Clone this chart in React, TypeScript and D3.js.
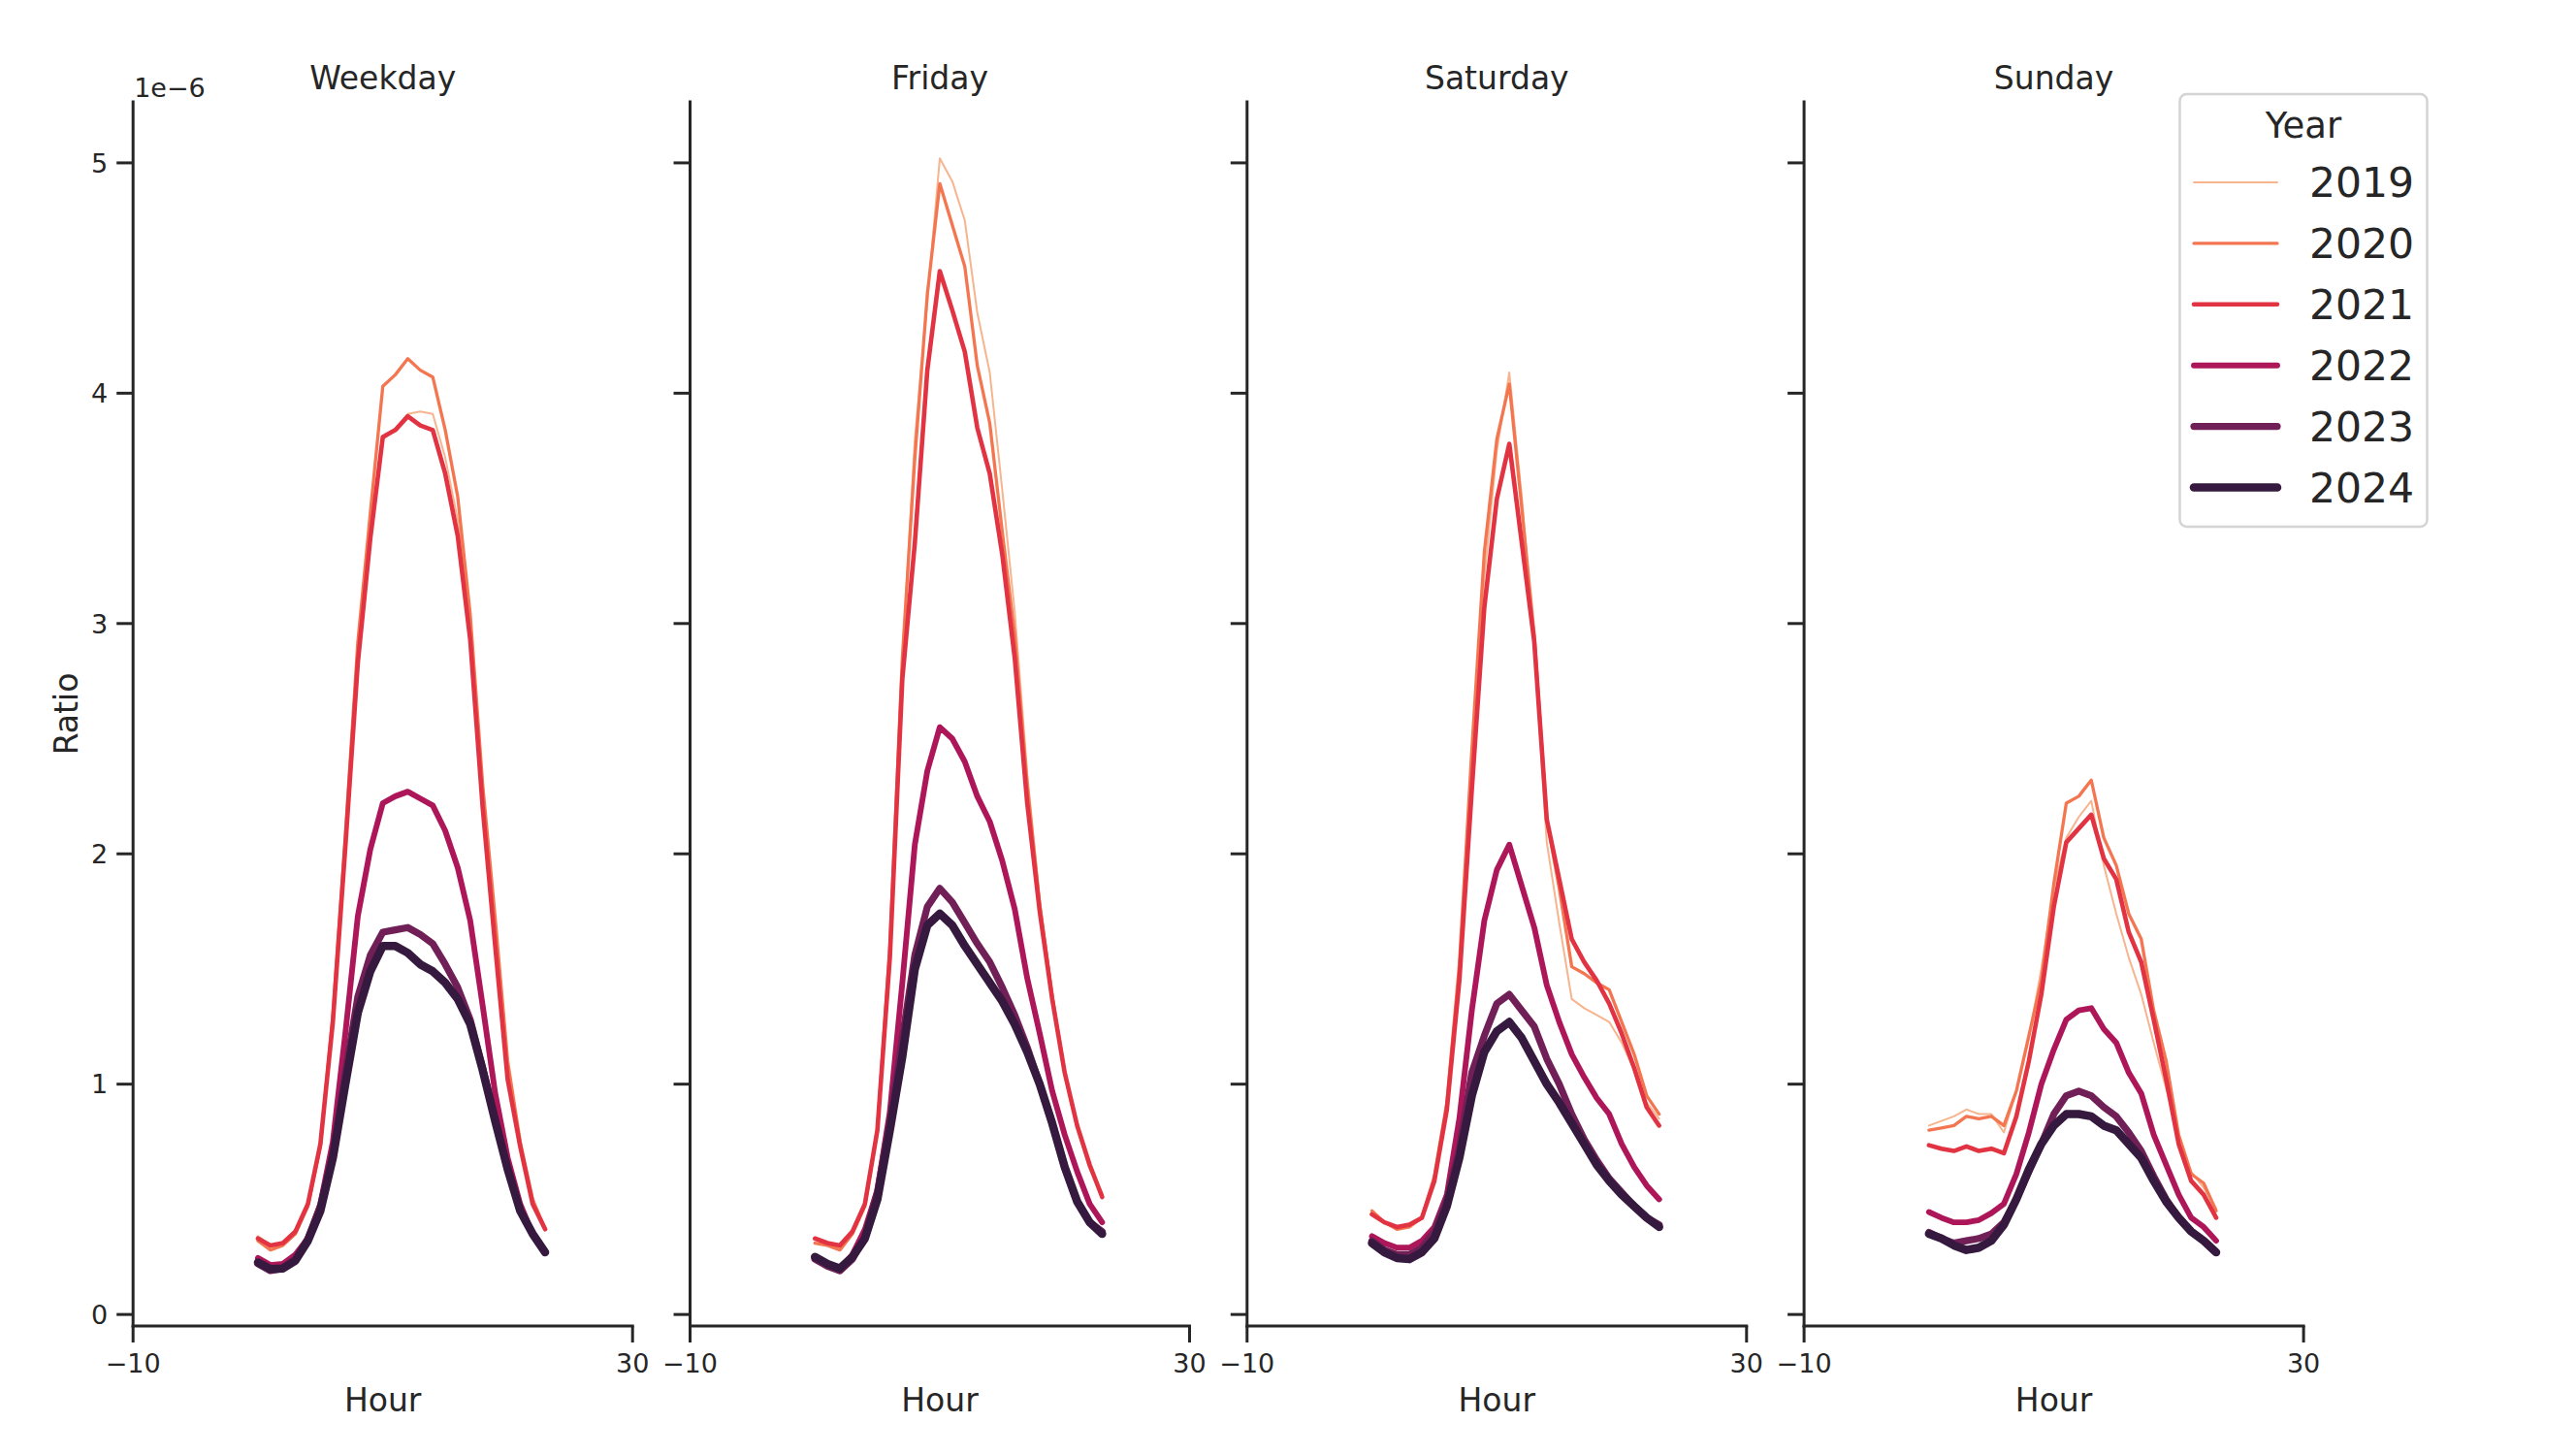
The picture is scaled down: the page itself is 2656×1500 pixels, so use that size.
import React from "react";
import * as d3 from "d3";

const dayTypes = ["Weekday", "Friday", "Saturday", "Sunday"];
const years = ["2019", "2020", "2021", "2022", "2023", "2024"];
const hours = [0, 1, 2, 3, 4, 5, 6, 7, 8, 9, 10, 11, 12, 13, 14, 15, 16, 17, 18, 19, 20, 21, 22, 23];
const yTicks = [0, 1, 2, 3, 4, 5];
const xTicks = [-10, 30];

// values in units of 1e-6, one row per year (2019..2024)
const weekday = [
  [0.34, 0.30, 0.31, 0.37, 0.48, 0.74, 1.30, 2.05, 2.88, 3.42, 3.80, 3.84, 3.91, 3.92, 3.91, 3.72, 3.45, 3.00, 2.30, 1.70, 1.10, 0.75, 0.50, 0.38],
  [0.32, 0.28, 0.30, 0.35, 0.47, 0.73, 1.30, 2.08, 2.92, 3.48, 4.03, 4.08, 4.15, 4.10, 4.07, 3.84, 3.55, 3.04, 2.30, 1.72, 1.10, 0.75, 0.50, 0.37],
  [0.33, 0.30, 0.31, 0.36, 0.48, 0.74, 1.27, 2.03, 2.83, 3.37, 3.81, 3.84, 3.90, 3.86, 3.84, 3.65, 3.38, 2.93, 2.20, 1.60, 1.02, 0.73, 0.48, 0.37],
  [0.245, 0.215, 0.22, 0.26, 0.33, 0.48, 0.75, 1.22, 1.73, 2.02, 2.22, 2.25, 2.27, 2.24, 2.21, 2.10, 1.94, 1.71, 1.34, 0.96, 0.68, 0.48, 0.35, 0.27],
  [0.22, 0.19, 0.20, 0.24, 0.33, 0.47, 0.70, 1.05, 1.38, 1.56, 1.66, 1.67, 1.68, 1.65, 1.61, 1.52, 1.42, 1.28, 1.07, 0.85, 0.63, 0.45, 0.35, 0.27],
  [0.226, 0.197, 0.20, 0.234, 0.32, 0.45, 0.68, 1.00, 1.31, 1.49, 1.60, 1.60, 1.57, 1.52, 1.49, 1.44, 1.37, 1.26, 1.06, 0.84, 0.63, 0.45, 0.35, 0.27],
];
const friday = [
  [0.33, 0.31, 0.29, 0.36, 0.47, 0.80, 1.60, 2.85, 3.80, 4.40, 5.02, 4.92, 4.75, 4.35, 4.09, 3.58, 3.05, 2.35, 1.80, 1.40, 1.05, 0.83, 0.64, 0.52],
  [0.31, 0.30, 0.28, 0.35, 0.47, 0.80, 1.60, 2.85, 3.72, 4.43, 4.91, 4.73, 4.55, 4.12, 3.87, 3.40, 2.95, 2.30, 1.78, 1.38, 1.05, 0.82, 0.64, 0.52],
  [0.33, 0.31, 0.30, 0.36, 0.48, 0.80, 1.55, 2.76, 3.35, 4.10, 4.53, 4.36, 4.18, 3.85, 3.65, 3.30, 2.85, 2.22, 1.75, 1.37, 1.05, 0.82, 0.65, 0.51],
  [0.25, 0.22, 0.20, 0.26, 0.37, 0.54, 0.88, 1.44, 2.04, 2.36, 2.55, 2.50, 2.40, 2.25, 2.14, 1.97, 1.76, 1.46, 1.22, 0.97, 0.78, 0.62, 0.48, 0.40],
  [0.24, 0.21, 0.19, 0.24, 0.34, 0.53, 0.84, 1.20, 1.56, 1.77, 1.85, 1.79, 1.70, 1.61, 1.53, 1.42, 1.30, 1.16, 1.00, 0.83, 0.64, 0.49, 0.40, 0.36],
  [0.25, 0.22, 0.20, 0.25, 0.33, 0.50, 0.80, 1.12, 1.50, 1.69, 1.74, 1.69, 1.60, 1.52, 1.44, 1.36, 1.26, 1.14, 1.00, 0.83, 0.64, 0.49, 0.40, 0.35],
];
const saturday = [
  [0.44, 0.40, 0.37, 0.38, 0.42, 0.58, 0.90, 1.50, 2.42, 3.20, 3.75, 4.09, 3.55, 2.90, 2.05, 1.70, 1.37, 1.33, 1.30, 1.27, 1.18, 1.06, 0.92, 0.85],
  [0.45, 0.40, 0.37, 0.38, 0.42, 0.60, 0.92, 1.52, 2.45, 3.31, 3.80, 4.04, 3.50, 2.95, 2.15, 1.85, 1.51, 1.48, 1.44, 1.41, 1.27, 1.13, 0.95, 0.87],
  [0.435, 0.40, 0.38, 0.39, 0.42, 0.58, 0.89, 1.45, 2.28, 3.07, 3.54, 3.78, 3.35, 2.92, 2.15, 1.89, 1.63, 1.53, 1.45, 1.35, 1.22, 1.07, 0.90, 0.82],
  [0.34, 0.31, 0.29, 0.29, 0.32, 0.38, 0.52, 0.85, 1.32, 1.71, 1.93, 2.04, 1.86, 1.68, 1.43, 1.27, 1.13, 1.03, 0.94, 0.87, 0.74, 0.64, 0.56, 0.50],
  [0.32, 0.28, 0.26, 0.26, 0.29, 0.36, 0.50, 0.72, 1.05, 1.21, 1.35, 1.39, 1.32, 1.25, 1.11, 1.00, 0.87, 0.76, 0.67, 0.59, 0.53, 0.47, 0.42, 0.39],
  [0.31, 0.27, 0.245, 0.24, 0.27, 0.33, 0.47, 0.68, 0.95, 1.14, 1.23, 1.27, 1.20, 1.10, 1.00, 0.92, 0.83, 0.74, 0.65, 0.58, 0.52, 0.47, 0.42, 0.38],
];
const sunday = [
  [0.82, 0.84, 0.86, 0.89, 0.87, 0.87, 0.79, 0.97, 1.20, 1.50, 1.85, 2.07, 2.16, 2.23, 1.95, 1.74, 1.55, 1.39, 1.18, 0.98, 0.78, 0.62, 0.55, 0.46],
  [0.80, 0.81, 0.82, 0.86, 0.85, 0.86, 0.82, 0.97, 1.21, 1.45, 1.87, 2.22, 2.25, 2.32, 2.07, 1.95, 1.74, 1.63, 1.32, 1.10, 0.78, 0.61, 0.57, 0.45],
  [0.735, 0.72, 0.71, 0.73, 0.71, 0.72, 0.70, 0.86, 1.10, 1.39, 1.77, 2.05, 2.11, 2.17, 1.98, 1.89, 1.66, 1.53, 1.28, 1.02, 0.74, 0.58, 0.52, 0.42],
  [0.445, 0.42, 0.40, 0.40, 0.41, 0.44, 0.48, 0.61, 0.79, 1.00, 1.15, 1.28, 1.32, 1.33, 1.24, 1.18, 1.05, 0.96, 0.78, 0.65, 0.52, 0.42, 0.38, 0.32],
  [0.356, 0.33, 0.31, 0.32, 0.33, 0.35, 0.40, 0.50, 0.62, 0.74, 0.87, 0.95, 0.97, 0.95, 0.90, 0.86, 0.79, 0.71, 0.60, 0.50, 0.42, 0.36, 0.32, 0.27],
  [0.35, 0.33, 0.30, 0.28, 0.29, 0.32, 0.39, 0.50, 0.63, 0.74, 0.82, 0.87, 0.87, 0.86, 0.82, 0.80, 0.74, 0.68, 0.58, 0.49, 0.42, 0.36, 0.32, 0.27],
];
const panelData = [weekday, friday, saturday, sunday];

const palette = ["#f6b48f", "#f37651", "#e13342", "#ad1759", "#701f57", "#35193e"];
const widths = [2.0, 3.3, 4.6, 5.9, 7.2, 8.5];

const W = 2656;
const H = 1500;
const ink = "#262626";
const font = "DejaVu Sans, sans-serif";
const firstLeft = 137.2;
const panelW = 515;
const panelStep = 574.3;
const top = 105;
const bottom = 1367;
const tickLen = 17;

export default function App() {
  const y = d3.scaleLinear().domain([-0.05, 5.265]).range([bottom, top]);
  return (
    <svg
      width={W}
      height={H}
      viewBox={`0 0 ${W} ${H}`}
      style={{ position: "absolute", left: 0, top: 0, display: "block", background: "#fff" }}
      fontFamily={font}
    >
      <rect x={0} y={0} width={W} height={H} fill="#fff" />
      {dayTypes.map((day, pi) => {
        const left = firstLeft + pi * panelStep;
        const x = d3.scaleLinear().domain([-10, 30]).range([left, left + panelW]);
        const line = d3
          .line<number>()
          .x((_, i) => x(hours[i]))
          .y((v) => y(v));
        const cx = left + panelW / 2;
        return (
          <g key={day}>
            {panelData[pi].map((series, si) => (
              <path
                key={years[si]}
                d={line(series) || ""}
                fill="none"
                stroke={palette[si]}
                strokeWidth={widths[si]}
                strokeLinejoin="round"
                strokeLinecap="round"
              />
            ))}
            <line x1={left} x2={left} y1={top} y2={bottom} stroke={ink} strokeWidth={3} strokeLinecap="square" />
            <line x1={left} x2={left + panelW} y1={bottom} y2={bottom} stroke={ink} strokeWidth={3} strokeLinecap="square" />
            {yTicks.map((t) => (
              <g key={t}>
                <line x1={left - tickLen} x2={left} y1={y(t)} y2={y(t)} stroke={ink} strokeWidth={3} />
                {pi === 0 && (
                  <text x={left - tickLen - 9} y={y(t)} dy="0.36em" textAnchor="end" fontSize={27} fill={ink}>
                    {t}
                  </text>
                )}
              </g>
            ))}
            {xTicks.map((t) => (
              <g key={t}>
                <line x1={x(t)} x2={x(t)} y1={bottom} y2={bottom + tickLen} stroke={ink} strokeWidth={3} />
                <text x={x(t)} y={1415} textAnchor="middle" fontSize={27} fill={ink}>
                  {t < 0 ? `\u2212${Math.abs(t)}` : String(t)}
                </text>
              </g>
            ))}
            <text x={cx} y={1455} textAnchor="middle" fontSize={33} fill={ink}>
              Hour
            </text>
            <text x={cx} y={92} textAnchor="middle" fontSize={33} fill={ink}>
              {day}
            </text>
          </g>
        );
      })}
      <text x={firstLeft + 1} y={100} fontSize={27} fill={ink}>
        1e−6
      </text>
      <text
        transform={`translate(80, ${(top + bottom) / 2}) rotate(-90)`}
        textAnchor="middle"
        fontSize={33}
        fill={ink}
      >
        Ratio
      </text>
      <g>
        <rect x={2247.5} y={97} width={255} height={446} rx={7} fill="#fff" fillOpacity={0.8} stroke="#d4d4d4" strokeWidth={2.5} />
        <text x={2375} y={141.5} textAnchor="middle" fontSize={37} fill={ink}>
          Year
        </text>
        {years.map((yr, i) => {
          const cy = 188 + i * 62.9;
          return (
            <g key={yr}>
              <line x1={2262} x2={2348} y1={cy} y2={cy} stroke={palette[i]} strokeWidth={widths[i]} strokeLinecap="round" />
              <text x={2381} y={cy + 15} fontSize={42.5} fill={ink}>
                {yr}
              </text>
            </g>
          );
        })}
      </g>
    </svg>
  );
}
